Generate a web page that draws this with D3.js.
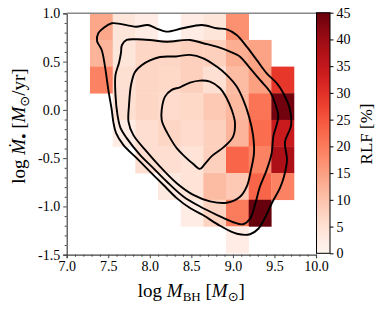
<!DOCTYPE html>
<html>
<head>
<meta charset="utf-8">
<script src="https://cdn.jsdelivr.net/npm/d3@7"></script>
<style>
body{margin:0;background:#fff;}
svg{display:block;}
text{font-family:"Liberation Serif","DejaVu Serif",serif;fill:#000;}
</style>
</head>
<body>
<script>
(function(){

    //bin edges of the 2D histogram
    var xEdges = [7.28, 7.554, 7.826, 8.099, 8.372, 8.644, 8.917, 9.19, 9.462, 9.735];
    var yEdges = [1.0, 0.724, 0.448, 0.172, -0.104, -0.38, -0.655, -0.931, -1.207, -1.483];

    //RLF [%] of each bin, top row first, null = empty bin
    var rlfRows = [
        [14, 4, 2, null, 2, 4, 17, null, null],
        [12, 4, 7, 7, 8, 8, 13, 14.5, null],
        [19, 5, 7, 6.5, 8, 5, 11, 15, 29],
        [null, 5, 7, 6, 6.5, 9, 11.5, 21, 44],
        [null, 2, 5.5, 7, 6, 8, 12, 22, 34],
        [null, null, 5.5, 5.5, 4.5, 8, 23, 19, 38],
        [null, null, null, 3, 4.5, 11, 9, 23, 19],
        [null, null, null, null, 2, 7.5, 20, 45, null],
        [null, null, null, null, null, null, 2, null, null]
    ];

    //tick values
    var xTicks = [7.0, 7.5, 8.0, 8.5, 9.0, 9.5, 10.0];
    var yTicks = [-1.5, -1.0, -0.5, 0.0, 0.5, 1.0];
    var cbTicks = [0, 5, 10, 15, 20, 25, 30, 35, 40, 45];

    //density contours (log M_BH, log Mdot), outermost first
    var contour1 = [[7.542,0.897],[7.834,0.861],[7.975,0.879],[8.075,0.845],[8.195,0.810],[8.396,0.845],
        [8.625,0.879],[8.805,0.845],[8.925,0.834],[9.046,0.776],[9.166,0.654],[9.286,0.517],[9.407,0.379],
        [9.527,0.276],[9.607,0.172],[9.687,0.0],[9.699,-0.166],[9.627,-0.331],[9.651,-0.518],[9.615,-0.690],
        [9.567,-0.807],[9.471,-0.962],[9.386,-1.118],[9.306,-1.231],[9.206,-1.288],[9.049,-1.283],
        [8.845,-1.200],[8.644,-1.092],[8.484,-1.017],[8.324,-0.914],[8.162,-0.776],[8.002,-0.639],
        [7.842,-0.500],[7.681,-0.362],[7.593,-0.238],[7.561,-0.124],[7.542,0.0],[7.501,0.207],
        [7.461,0.448],[7.421,0.620],[7.365,0.713],[7.380,0.793],[7.440,0.845]];
    var contour2 = [[7.722,0.724],[7.842,0.731],[8.002,0.724],[8.203,0.706],[8.484,0.724],[8.644,0.690],
        [8.805,0.654],[8.965,0.603],[9.086,0.551],[9.206,0.431],[9.326,0.310],[9.446,0.189],[9.507,0.069],
        [9.546,-0.070],[9.486,-0.277],[9.467,-0.448],[9.407,-0.621],[9.326,-0.794],[9.266,-0.983],
        [9.206,-1.128],[9.122,-1.185],[9.005,-1.164],[8.805,-1.087],[8.604,-1.001],[8.403,-0.897],
        [8.203,-0.742],[8.042,-0.603],[7.882,-0.466],[7.722,-0.293],[7.647,-0.187],[7.611,-0.052],
        [7.587,0.155],[7.587,0.362],[7.629,0.486],[7.653,0.589],[7.665,0.672]];
    var contour3 = [[7.774,0.258],[7.822,0.393],[7.906,0.465],[8.002,0.512],[8.123,0.548],[8.315,0.553],
        [8.484,0.569],[8.644,0.534],[8.805,0.448],[8.925,0.362],[9.046,0.241],[9.125,0.103],[9.194,-0.070],
        [9.242,-0.259],[9.254,-0.445],[9.218,-0.621],[9.170,-0.787],[9.086,-0.900],[8.925,-0.962],
        [8.725,-0.947],[8.524,-0.880],[8.324,-0.759],[8.123,-0.587],[7.963,-0.432],[7.801,-0.259],
        [7.744,-0.124],[7.750,0.051]];
    var contour4 = [[8.143,-0.104],[8.143,0.0],[8.183,0.137],[8.264,0.207],[8.363,0.234],[8.484,0.282],
        [8.604,0.303],[8.724,0.292],[8.845,0.224],[8.925,0.121],[8.986,0.0],[9.025,-0.135],[9.001,-0.280],
        [8.893,-0.383],[8.749,-0.476],[8.664,-0.559],[8.604,-0.611],[8.520,-0.559],[8.412,-0.476],
        [8.324,-0.397],[8.223,-0.259],[8.162,-0.156]];
    var contours = [contour1, contour2, contour3, contour4];

    var width = 382, height = 309;
    var left = 66.7, right = 316, top = 13.3, bottom = 254.7;
    var cbLeft = 316.5, cbRight = 330;

    var svg = d3.select("body").append("svg")
        .attr("width", width)
        .attr("height", height);

    var x = d3.scaleLinear().domain([7, 10]).range([left, right]);
    var y = d3.scaleLinear().domain([-1.5, 1.0]).range([bottom, top]);
    var color = d3.scaleSequential(d3.interpolateReds).domain([0, 45]);

    //clip for the plot area
    svg.append("clipPath").attr("id", "plotClip")
        .append("rect")
        .attr("x", left).attr("y", top)
        .attr("width", right - left).attr("height", bottom - top);

    var plot = svg.append("g").attr("clip-path", "url(#plotClip)");

    //flatten grid to cells
    var cells = [];
    rlfRows.forEach(function(row, r){
        row.forEach(function(v, c){
            if (v !== null) cells.push({r: r, c: c, v: v});
        });
    });

    plot.selectAll(".cell")
        .data(cells)
        .enter()
        .append("rect")
        .attr("class", "cell")
        .attr("x", function(d){ return x(xEdges[d.c]); })
        .attr("y", function(d){ return y(yEdges[d.r]); })
        .attr("width", function(d){ return x(xEdges[d.c + 1]) - x(xEdges[d.c]) + 0.3; })
        .attr("height", function(d){ return y(yEdges[d.r + 1]) - y(yEdges[d.r]) + 0.3; })
        .attr("fill", function(d){ return color(d.v); });

    //contour lines
    var line = d3.line()
        .x(function(d){ return x(d[0]); })
        .y(function(d){ return y(d[1]); })
        .curve(d3.curveCatmullRomClosed.alpha(0.5));

    plot.selectAll(".contour")
        .data(contours)
        .enter()
        .append("path")
        .attr("class", "contour")
        .attr("d", line)
        .attr("fill", "none")
        .attr("stroke", "#000")
        .attr("stroke-width", 1.9)
        .attr("stroke-linejoin", "round");

    //minor tick values
    var xMinor = d3.range(70, 101).map(function(v){ return v / 10; })
        .filter(function(v){ return xTicks.indexOf(v) < 0; });
    var yMinor = d3.range(-15, 11).map(function(v){ return v / 10; })
        .filter(function(v){ return yTicks.indexOf(v) < 0; });

    var fmt = function(d){ return d.toFixed(1); };
    var axisColor = "#444";

    var xAxis = svg.append("g")
        .attr("transform", "translate(0," + bottom + ")")
        .call(d3.axisBottom(x).tickValues(xTicks).tickFormat(fmt).tickSize(3.5).tickPadding(3));
    svg.append("g")
        .attr("transform", "translate(0," + bottom + ")")
        .call(d3.axisBottom(x).tickValues(xMinor).tickFormat("").tickSize(2))
        .select(".domain").remove();

    var yAxis = svg.append("g")
        .attr("transform", "translate(" + left + ",0)")
        .call(d3.axisLeft(y).tickValues(yTicks).tickFormat(fmt).tickSize(3.5).tickPadding(3));
    svg.append("g")
        .attr("transform", "translate(" + left + ",0)")
        .call(d3.axisLeft(y).tickValues(yMinor).tickFormat("").tickSize(2))
        .select(".domain").remove();

    svg.selectAll(".tick line").attr("stroke", axisColor);
    svg.selectAll(".domain").attr("stroke", axisColor).attr("stroke-width", 1.2);
    svg.selectAll(".tick text")
        .style("font-family", '"Liberation Serif","DejaVu Serif",serif')
        .style("font-size", "14px")
        .attr("fill", "#000");

    //top spine
    svg.append("line")
        .attr("x1", left).attr("x2", right)
        .attr("y1", top).attr("y2", top)
        .attr("stroke", "#888")
        .attr("stroke-width", 1.5);

    //colorbar
    var cb = d3.scaleLinear().domain([0, 45]).range([bottom - 1.4, top - 0.6]);
    var grad = svg.append("defs").append("linearGradient")
        .attr("id", "cbGrad")
        .attr("x1", 0).attr("y1", 1).attr("x2", 0).attr("y2", 0);
    grad.selectAll("stop")
        .data(d3.range(0, 1.001, 0.05))
        .enter()
        .append("stop")
        .attr("offset", function(d){ return d; })
        .attr("stop-color", function(d){ return d3.interpolateReds(d); });

    svg.append("rect")
        .attr("x", cbLeft)
        .attr("y", cb(45))
        .attr("width", cbRight - cbLeft)
        .attr("height", cb(0) - cb(45))
        .attr("fill", "url(#cbGrad)")
        .attr("stroke", "#000")
        .attr("stroke-width", 1);

    var cbAxis = svg.append("g")
        .attr("transform", "translate(" + cbRight + ",0)")
        .call(d3.axisRight(cb).tickValues(cbTicks).tickSize(3.5).tickPadding(3));
    cbAxis.select(".domain").remove();
    cbAxis.selectAll(".tick line").attr("stroke", "#000");
    cbAxis.selectAll(".tick text")
        .style("font-family", '"Liberation Serif","DejaVu Serif",serif')
        .style("font-size", "14px")
        .attr("fill", "#000");

    //x axis label
    var xl = svg.append("text")
        .attr("x", (left + right) / 2)
        .attr("y", 297)
        .attr("text-anchor", "middle")
        .style("font-size", "19px");
    xl.append("tspan").text("log ");
    xl.append("tspan").style("font-style", "italic").text("M");
    xl.append("tspan").attr("dy", 4).style("font-size", "13px").text("BH");
    xl.append("tspan").attr("dy", -4).text(" [");
    xl.append("tspan").style("font-style", "italic").text("M");
    xl.append("tspan").attr("dy", 4).style("font-size", "13px").style("font-family", '"DejaVu Sans"').text("\u2299");
    xl.append("tspan").attr("dy", -4).text("]");

    //y axis label
    var yl = svg.append("text")
        .attr("transform", "translate(25,126) rotate(-90)")
        .attr("text-anchor", "middle")
        .style("font-size", "19px");
    yl.append("tspan").text("log ");
    yl.append("tspan").style("font-style", "italic").text("\u1E40");
    yl.append("tspan").attr("dy", 4).style("font-size", "15px").text("\u2022");
    yl.append("tspan").attr("dy", -4).text(" [");
    yl.append("tspan").style("font-style", "italic").text("M");
    yl.append("tspan").attr("dy", 4).style("font-size", "13px").style("font-family", '"DejaVu Sans"').text("\u2299");
    yl.append("tspan").attr("dy", -4).text("/yr]");

    //colorbar label
    svg.append("text")
        .attr("transform", "translate(372,134) rotate(-90)")
        .attr("text-anchor", "middle")
        .style("font-size", "17px")
        .text("RLF [%]");

})();
</script>
</body>
</html>
